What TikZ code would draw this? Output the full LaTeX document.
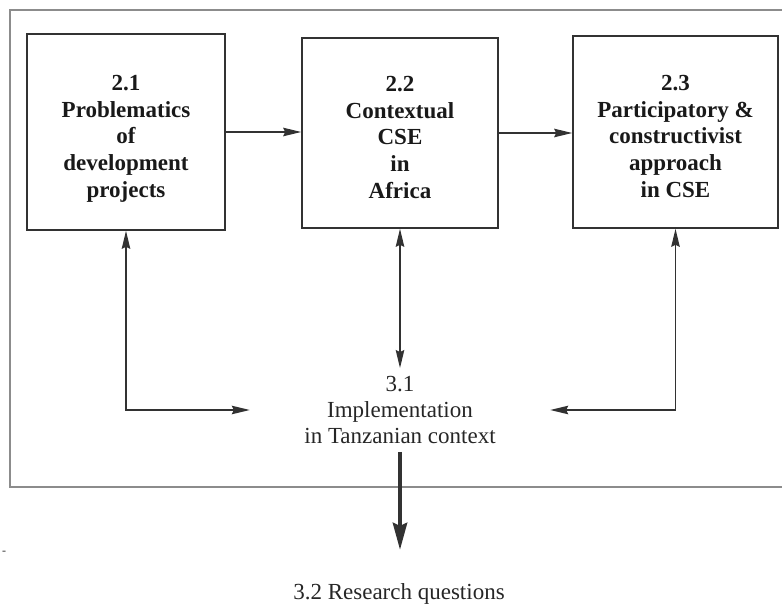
\documentclass[tikz,border=0pt]{standalone}
\usepackage{fontspec}
\setmainfont{Liberation Serif}
\usetikzlibrary{arrows.meta,calc}
\definecolor{Frame}{RGB}{140,140,140}
\definecolor{Ink}{RGB}{50,50,50}
\newcommand{\topstrut}{\rule{0pt}{30pt}}
\newcommand{\botstrut}{\rule[-6pt]{0pt}{6pt}}

\tikzset{
    topic/.style={draw=Ink, line width=1.6pt, inner sep=0pt, minimum height=192pt,
        align=center, text=black!90, font=\fontsize{23}{26.75}\selectfont\bfseries},
    plain/.style={align=center, text=black!85, font=\fontsize{23}{26}\selectfont},
    link/.style={draw=Ink, line width=1.4pt, -{Stealth[length=18pt,width=8.5pt,inset=2pt]}},
    twoway/.style={draw=Ink, line width=1.4pt,
        {Stealth[length=18pt,width=8.5pt,inset=2pt]}-{Stealth[length=18pt,width=8.5pt,inset=2pt]}},
    outflow/.style={draw=Ink, line width=4.7pt, -{Stealth[length=27pt,width=14pt,inset=3pt]}}
}

\begin{document}
\begin{tikzpicture}[x=1pt, y=-1pt]
    %% Background
    \useasboundingbox (0,0) rectangle (782,604);

    %% Frame
    \draw[Frame, line width=1.5pt] (782,10) -- (10,10) -- (10,487) -- (782,487);

    %% Topics
    \node[topic, minimum width=198pt, minimum height=196pt] (box21) at (126,132)
        {\topstrut 2.1\\Problematics\\of\\development\\projects\botstrut};
    \node[topic, minimum width=196pt, minimum height=190pt] (box22) at (400,133)
        {\topstrut 2.2\\Contextual\\CSE\\in\\Africa\botstrut};
    \node[topic, minimum width=205pt] (box23) at (675.5,132)
        {\topstrut 2.3\\Participatory \&\\constructivist\\approach\\in CSE\botstrut};

    %% Implementation
    \node[plain, minimum width=300pt, inner xsep=0pt, inner ysep=8pt] (impl) at (400,410)
        {3.1\\Implementation\\in Tanzanian context};
    \node[plain] (rq) at (399,594) {3.2 Research questions};
    \node[font=\fontsize{12}{12}\selectfont, text=black!80] (dash) at (4,553) {-};

    %% Links
    \draw[link] (box21.east) -- (box21.east -| box22.west);
    \draw[link] (box22.east) -- (box22.east -| box23.west);
    \draw[twoway] (box21.south) |- (impl.west);
    \draw[twoway] (box22.south) -- (box22.south |- impl.north);
    \draw[twoway] (box23.south) |- (impl.east);
    \draw[outflow, shorten >=30pt] (impl.south) -- (impl.south |- rq.north);

\end{tikzpicture}
\end{document}
